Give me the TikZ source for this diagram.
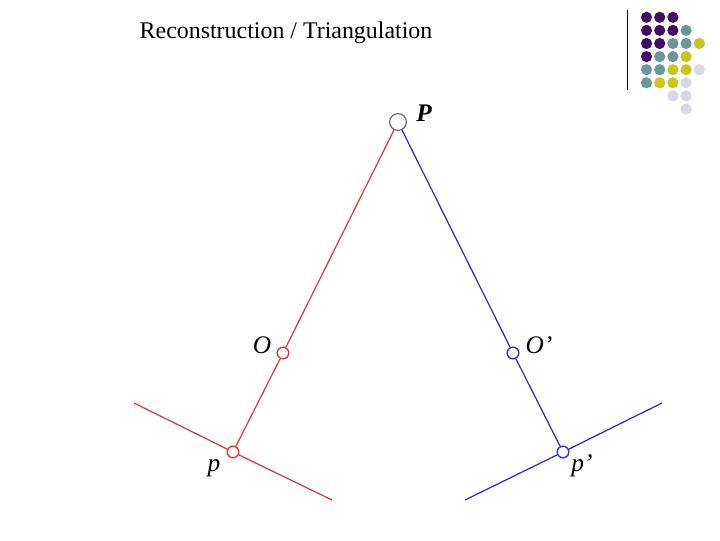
\documentclass[tikz,border=0pt]{standalone}
\usepackage{fontspec}
\setmainfont{Liberation Serif}
\usetikzlibrary{positioning}
\definecolor{rayred}{RGB}{222,58,58}
\definecolor{rayblue}{RGB}{48,48,200}
\definecolor{dotpurple}{RGB}{66,14,100}
\definecolor{dotteal}{RGB}{104,152,152}
\definecolor{dotyellow}{RGB}{200,198,30}
\definecolor{dotlav}{RGB}{216,216,232}
\tikzstyle{world} = [circle, draw=black!60, fill=white, line width=0.8pt, minimum size=4.2mm, inner sep=0pt]
\tikzstyle{center} = [circle, fill=white, line width=1pt, minimum size=2.9mm, inner sep=0pt]
\tikzstyle{lbl} = [font=\fontsize{18}{21}\selectfont\itshape, inner sep=0pt]
\tikzstyle{ray} = [draw, line width=0.9pt]
\tikzstyle{dot} = [circle, inner sep=0pt, minimum size=2.8mm]

\begin{document}
\begin{tikzpicture}[x=0.025cm, y=-0.025cm]
            \useasboundingbox (0,0) rectangle (720,540);
            \node[font=\fontsize{17}{20}\selectfont] (title) at (286,33) {Reconstruction / Triangulation};

            % corner decoration
            \draw[line width=0.7pt] (627,10) -- (627,90);
            \foreach \c/\r/\col in {0/0/dotpurple,1/0/dotpurple,2/0/dotpurple,
                                    0/1/dotpurple,1/1/dotpurple,2/1/dotpurple,3/1/dotteal,
                                    0/2/dotpurple,1/2/dotpurple,2/2/dotteal,3/2/dotteal,4/2/dotyellow,
                                    0/3/dotpurple,1/3/dotteal,2/3/dotteal,3/3/dotyellow,
                                    0/4/dotteal,1/4/dotteal,2/4/dotyellow,3/4/dotyellow,4/4/dotlav,
                                    0/5/dotteal,1/5/dotyellow,2/5/dotyellow,3/5/dotlav,
                                    2/6/dotlav,3/6/dotlav,
                                    3/7/dotlav}
                \node[dot, fill=\col] at ({646.5+13.2*\c},{17.3+13.1*\r}) {};

            \node[world] (P) at (398,122) {};
            \node[center, draw=rayred] (O) at (283,353) {};
            \node[center, draw=rayblue] (Oprime) at (513,353) {};
            \node[center, draw=rayred] (p) at (233,452) {};
            \node[center, draw=rayblue] (pprime) at (563,452) {};
            \coordinate (redleft) at (134,403);
            \coordinate (redright) at (332,500);
            \coordinate (blueleft) at (465,500);
            \coordinate (blueright) at (662,403);

            \node[lbl, font=\fontsize{18}{21}\selectfont\bfseries\itshape] (Plabel) at (424,113) {P};
            \node[lbl] (Olabel) at (262,345) {O};
            \node[lbl] (Oplabel) at (539,345) {O’};
            \node[lbl] (plabel) at (214,468) {p};
            \node[lbl] (pplabel) at (582,466) {p’};

            \path [ray, rayred] (P) -- (O);
            \path [ray, rayred] (O) -- (p);
            \path [ray, rayred] (redleft) -- (p);
            \path [ray, rayred] (p) -- (redright);
            \path [ray, rayblue] (P) -- (Oprime);
            \path [ray, rayblue] (Oprime) -- (pprime);
            \path [ray, rayblue] (blueleft) -- (pprime);
            \path [ray, rayblue] (pprime) -- (blueright);
        \end{tikzpicture}
\end{document}
